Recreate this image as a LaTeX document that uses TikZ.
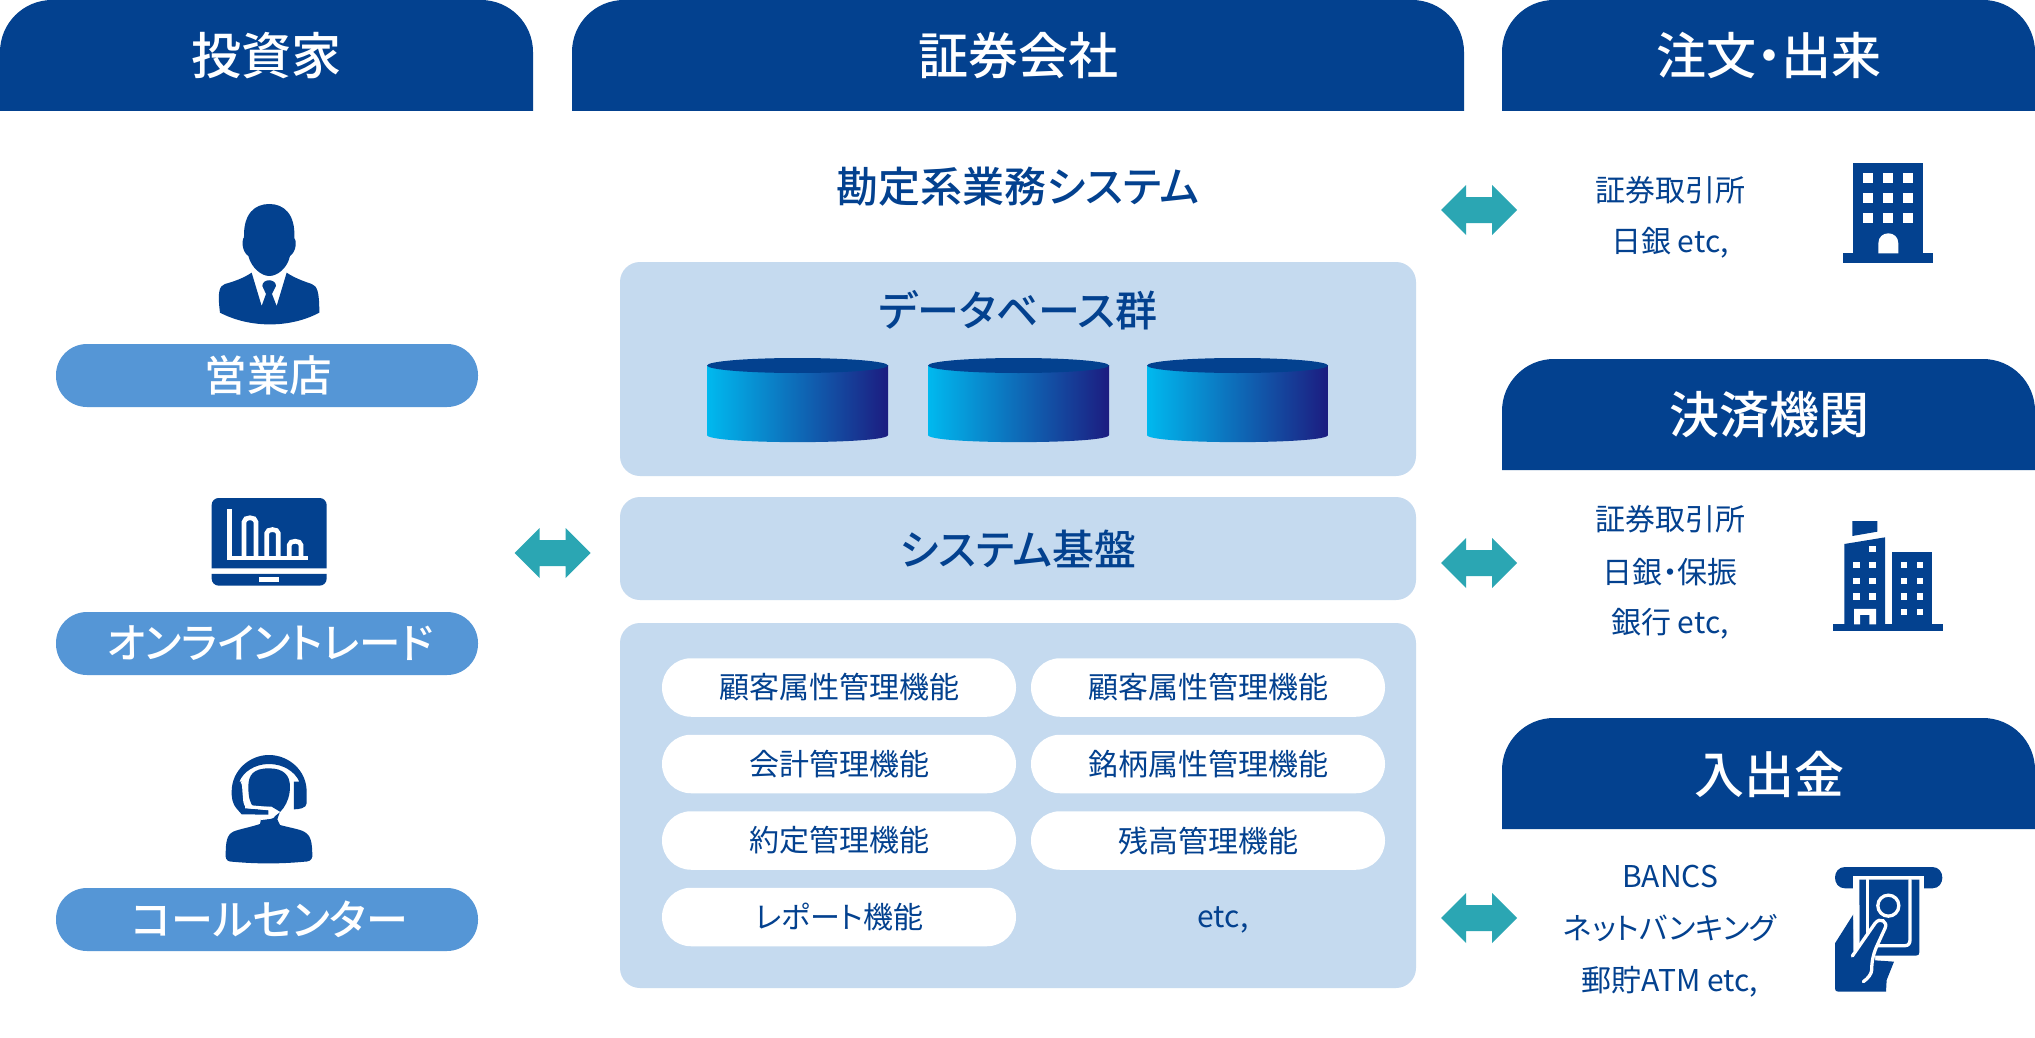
\documentclass[tikz,border=0pt]{standalone}
\usepackage{fontspec}
\setmainfont[RawFeature={+palt}]{Noto Sans CJK JP}
\newfontfamily\jpm[RawFeature={+palt}]{Noto Sans CJK JP Medium}
\definecolor{navy}{HTML}{03418F}
\definecolor{midblue}{HTML}{5596D6}
\definecolor{paleblue}{HTML}{C5DAEF}
\definecolor{teal2}{HTML}{2BA6B3}
\definecolor{cylL}{HTML}{00B9EF}
\definecolor{cylM}{HTML}{0F6EB9}
\definecolor{cylR}{HTML}{1C1C80}
\newcommand{\fsz}[1]{\fontsize{#1}{#1}\selectfont}
\tikzset{
  x=1pt,y=-1pt,
  iconat/.style 2 args={shift={(#1,#2)},x=0.3333pt,y=-0.3333pt},
  hdrtext/.style={text=white,font=\jpm\fsz{50},inner sep=0},
  titletext/.style={text=navy,font=\jpm\fsz{42},inner sep=0},
  bluepill/.style={fill=midblue,text=white,font=\jpm\fsz{42},rounded corners=31pt,minimum width=422,minimum height=63,inner sep=0},
  whitepill/.style={fill=white,text=navy,font=\fsz{30},rounded corners=29pt,minimum width=354,minimum height=58.5,inner sep=0},
  small/.style={text=navy,font=\fsz{30},inner sep=0},
  panel/.style={fill=paleblue,rounded corners=20pt},
  hdrbox/.style={fill=navy},
  iconfill/.style={fill=navy},
  dblfill/.style={fill=teal2},
}
\newcommand{\hdr}[6]{% name x0 x1 y cx text
  \fill[hdrbox] (#2,#4+111) [rounded corners=52pt] -- (#2,#4) -- (#3,#4) [sharp corners] -- (#3,#4+111) -- cycle;
  \node[hdrtext] (#1) at (#5,#4+56) {#6};}
\newcommand{\cyl}[1]{%
  \path[left color=cylL,middle color=cylM,right color=cylR] (#1,365) -- (#1,435) .. controls (#1,444.5) and (#1+181,444.5) .. (#1+181,435) -- (#1+181,365) -- cycle;
  \fill[navy] (#1+90.5,365.5) ellipse[x radius=90.5pt,y radius=7.5pt];}
\newcommand{\dblarrow}[3]{% name cx cy
  \coordinate (#1) at (#2,#3);
  \fill[dblfill] (#2-38,#3) -- (#2-13,#3-25) -- (#2-13,#3-13) -- (#2+13,#3-13) -- (#2+13,#3-25) -- (#2+38,#3) -- (#2+13,#3+25) -- (#2+13,#3+13) -- (#2-13,#3+13) -- (#2-13,#3+25) -- cycle;}
\begin{document}
\begin{tikzpicture}
\useasboundingbox (0,0) rectangle (2035,1038);
\fill[white] (0,0) rectangle (2035,1038);
% headers
\hdr{hA}{0}{533}{0}{266.5}{投資家}
\hdr{hB}{572}{1464}{0}{1018}{証券会社}
\hdr{hC}{1502}{2035}{0}{1769}{注文・出来}
\hdr{hD}{1502}{2035}{359}{1769}{決済機関}
\hdr{hE}{1502}{2035}{718}{1769}{入出金}
% left pills
\node[bluepill,font=\jpm\fsz{42.5}] (p1) at (267,375.5) {\kern3pt 営業店};
\node[bluepill,font=\jpm\fsz{41.5}] (p2) at (267,643.5) {\kern6pt オンライントレード};
\node[bluepill,font=\jpm\fsz{42}] (p3) at (267,919.5) {\kern6pt コールセンター};
% panels
\fill[panel] (620,262) rectangle (1416,476);
\fill[panel] (620,497) rectangle (1416,600);
\fill[panel] (620,623) rectangle (1416,988);
\node[titletext] (t0) at (1018,187) {勘定系業務システム};
\node[titletext] (t1) at (1018,310) {データベース群};
\node[titletext] (t2) at (1018,549) {システム基盤};
\cyl{707}\cyl{928}\cyl{1147}
% white pills
\node[whitepill] (w1) at (839,687.5) {顧客属性管理機能};
\node[whitepill] (w2) at (1208,687.5) {顧客属性管理機能};
\node[whitepill] (w3) at (839,764) {会計管理機能};
\node[whitepill] (w4) at (1208,764) {銘柄属性管理機能};
\node[whitepill] (w5) at (839,840.5) {約定管理機能};
\node[whitepill] (w6) at (1208,840.5) {残高管理機能};
\node[whitepill] (w7) at (839,917) {レポート機能};
\node[small] (w8) at (1223,920) {etc,};
% right text
\node[small] (r1) at (1670,190) {証券取引所};
\node[small] (r2) at (1670,243) {日銀 etc,};
\node[small] (r3) at (1670,519) {証券取引所};
\node[small] (r4) at (1670,572) {日銀・保振};
\node[small] (r5) at (1670,624) {銀行 etc,};
\node[small] (r6) at (1670,876) {BANCS};
\node[small] (r7) at (1670,928) {ネットバンキング};
\node[small] (r8) at (1670,982) {郵貯ATM etc,};
% arrows
\dblarrow{a0}{552.5}{553}
\dblarrow{a1}{1479}{210}
\dblarrow{a2}{1479}{563}
\dblarrow{a3}{1479}{918}
% person
\begin{scope}[iconat={180}{180}]
\fill[iconfill] (268,72) .. controls (225,72) and (190,100) .. (192,172) .. controls (185,180) and (185,215) .. (205,228) .. controls (215,265) and (245,288) .. (268,288) .. controls (292,288) and (322,265) .. (330,228) .. controls (350,215) and (350,180) .. (343,175) .. controls (347,100) and (310,72) .. (268,72) -- cycle;
\fill[iconfill] (215,278) -- (245,378) -- (258,342) -- (247,318) .. controls (247,295) and (288,295) .. (288,318) -- (276,342) -- (290,378) -- (320,278) .. controls (345,295) and (375,305) .. (395,312) .. controls (412,318) and (418,335) .. (418,398) .. controls (330,445) and (210,445) .. (120,398) .. controls (112,335) and (118,318) .. (135,312) .. controls (160,305) and (190,295) .. (215,278) -- cycle;
\end{scope}
% laptop
\begin{scope}[iconat={180}{480}]
\fill[iconfill] (95,265) [rounded corners=7pt] -- (95,54) -- (440,54) [sharp corners] -- (440,265) -- cycle;
\fill[iconfill] (95,282) [rounded corners=7pt] -- (95,317) -- (440,317) [sharp corners] -- (440,282) -- cycle;
\fill[white] (238,292) rectangle (297,305);
\begin{scope}[draw=white,line width=4.7pt,line join=miter]
\draw (149,87) -- (149,234) -- (385,234);
\draw (192,234) -- (192,126) .. controls (192,109) and (228,109) .. (228,126) -- (228,234);
\draw (260,234) -- (260,160) .. controls (260,145) and (295,145) .. (295,160) -- (295,234);
\draw (328,234) -- (328,195) .. controls (328,180) and (363,180) .. (363,195) -- (363,234);
\end{scope}
\end{scope}
% headset
\begin{scope}[iconat={200}{740}]
\fill[iconfill] (112,208) .. controls (95,190) and (95,170) .. (95,155) .. controls (95,90) and (150,45) .. (207,45) .. controls (265,45) and (320,90) .. (320,155) -- (320,190) .. controls (320,205) and (295,208) .. (282,208) -- (282,125) -- (298,125) .. controls (285,95) and (250,72) .. (207,72) .. controls (165,72) and (130,95) .. (118,125) -- (127,125) -- (135,205) -- (205,210) -- (205,224) -- (125,223) -- cycle;
\fill[iconfill] (207,85) .. controls (160,85) and (145,105) .. (145,140) .. controls (145,170) and (150,190) .. (160,200) -- (215,200) -- (240,215) -- (232,238) -- (240,255) .. controls (270,263) and (300,268) .. (312,275) .. controls (332,285) and (337,305) .. (337,350) .. controls (335,362) and (325,365) .. (315,365) .. controls (240,372) and (170,372) .. (95,365) .. controls (85,365) and (78,360) .. (77,350) .. controls (77,305) and (80,285) .. (100,275) .. controls (115,268) and (150,262) .. (180,252) -- (183,238) -- (200,238) .. controls (240,230) and (270,190) .. (270,140) .. controls (270,105) and (250,85) .. (207,85) -- cycle;
\draw[white,line width=3.3pt,line cap=butt] (125,125) .. controls (133,125) and (130,140) .. (135,185) .. controls (137,197) and (145,200) .. (155,201) -- (207,206) .. controls (228,208) and (228,232) .. (207,232) -- (183,235);
\end{scope}
% building 1
\begin{scope}[iconat={1820}{150}]
\fill[iconfill] (100,40) rectangle (310,310);
\fill[iconfill] (70,310) rectangle (340,340);
\foreach \wx in {130,190,250}\foreach \wy in {70,130,190}
  \fill[white] (\wx,\wy) rectangle (\wx+30,\wy+30);
\fill[white] (175,310) -- (175,280) .. controls (175,240) and (235,240) .. (235,280) -- (235,310) -- cycle;
\end{scope}
% building 2
\begin{scope}[iconat={1820}{510}]
\fill[iconfill] (97,33) -- (172,33) -- (172,65) -- (97,78) -- cycle;
\fill[iconfill] (73,102) -- (195,82) -- (195,343) -- (73,343) -- cycle;
\fill[iconfill] (215,127) rectangle (337,343);
\fill[iconfill] (40,343) rectangle (370,362);
\fill[white] (148,108) rectangle (168,127);
\foreach \wx in {100,148}\foreach \wy in {155,203,250}
  \fill[white] (\wx,\wy) rectangle (\wx+20,\wy+19);
\foreach \wx in {242,290}\foreach \wy in {155,203,250,297}
  \fill[white] (\wx,\wy) rectangle (\wx+20,\wy+19);
\fill[white] (102,297) -- (168,297) -- (168,343) -- (148,343) -- (148,315) -- (120,315) -- (120,343) -- (102,343) -- cycle;
\end{scope}
% ATM
\begin{scope}[iconat={1820}{855}]
\fill[iconfill] (75,36) -- (337,36) .. controls (377,36) and (377,100) .. (337,100) -- (75,100) .. controls (35,100) and (35,36) .. (75,36) -- cycle;
\fill[white] (100,62) rectangle (311,105);
\fill[iconfill] (118,74) -- (298,74) -- (298,292) .. controls (298,298) and (295,302) .. (288,302) -- (118,302) -- cycle;
\fill[iconfill] (100,178) -- (45,265) -- (45,400) .. controls (45,407) and (48,410) .. (55,410) -- (198,410) -- (200,375) -- (222,320) -- (165,316) -- (165,290) -- (118,270) -- (100,290) -- cycle;
\fill[white] (100,178) -- (118,150) -- (118,270) -- (103,290) -- cycle;
\begin{scope}[draw=white,line width=3.3pt,line cap=round]
\draw (143,74) -- (143,232);
\draw (270,74) -- (270,255) .. controls (270,265) and (265,272) .. (255,272) -- (172,272);
\draw (205,152) circle[radius=10.5pt];
\draw (97,303) -- (165,205) .. controls (180,185) and (205,200) .. (195,220) -- (172,270) .. controls (160,295) and (155,320) .. (155,345) .. controls (155,355) and (145,370) .. (130,380);
\end{scope}
\end{scope}
\end{tikzpicture}
\end{document}
